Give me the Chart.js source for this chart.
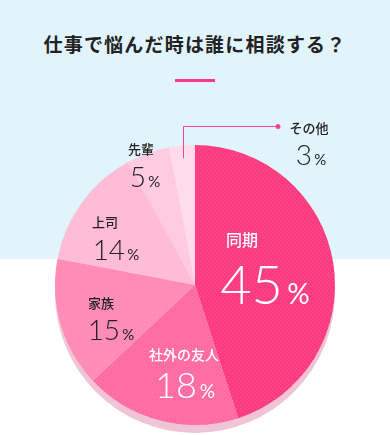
<!DOCTYPE html>
<html>
<head>
<meta charset="utf-8">
<script src="https://cdn.jsdelivr.net/npm/chart.js@4"></script>
<style>
  html,body{margin:0;padding:0;background:#fff;}
  #wrap{position:relative;width:390px;height:435px;overflow:hidden;background:#fff;}
  #bg{position:absolute;left:0;top:0;width:390px;height:259px;background:#e2f4fb;}
  #title{position:absolute;left:0;top:31px;width:390px;text-align:center;font-family:"Noto Sans CJK JP","Noto Sans",sans-serif;font-weight:700;font-size:19px;letter-spacing:1.2px;color:#222;line-height:26px;}
  #bar{position:absolute;left:175px;top:79px;width:40px;height:3px;background:#f63c80;}
  canvas{position:absolute;left:0;top:0;}
</style>
</head>
<body>
<div id="wrap">
  <div id="bg"></div>
  <div id="title">仕事で悩んだ時は誰に相談する？</div>
  <div id="bar"></div>
  <canvas id="c" width="390" height="435"></canvas>
</div>
<script>
const categories = ["同期", "社外の友人", "家族", "上司", "先輩", "その他"];
const values = [45, 18, 15, 14, 5, 3];
const valueLabels = ["45", "18", "15", "14", "5", "3"];

const sliceColors = ["#fb3a80", "#fe6aa3", "#fe8ab5", "#ffbad4", "#ffcadf", "#ffdae8"];
// label placement relative to pie centre (pixels): name centre, value centre, sizes, colour
const labelLayout = [
  {nx: 47, ny: -45, vx: 70, vy: 0, nSize: 16, vSize: 54, color: "#ffffff"},
  {nx: -11, ny: 70, vx: -10, vy: 100, nSize: 14, vSize: 36, color: "#ffffff"},
  {nx: -94, ny: 18, vx: -84, vy: 45, nSize: 13, vSize: 28, color: "#222222"},
  {nx: -90, ny: -63, vx: -79, vy: -35, nSize: 13, vSize: 28, color: "#222222"},
  {nx: -54, ny: -136, vx: -50, vy: -108, nSize: 13, vSize: 28, color: "#222222"},
  {nx: 114, ny: -157, vx: 116, vy: -130, nSize: 13, vSize: 28, color: "#222222"}
];

function makePattern(color) {
  const p = document.createElement("canvas");
  p.width = 4; p.height = 4;
  const g = p.getContext("2d");
  g.fillStyle = color;
  g.fillRect(0, 0, 4, 4);
  g.fillStyle = "rgba(255,255,255,0.16)";
  g.fillRect(0, 0, 1, 1);
  g.fillRect(2, 2, 1, 1);
  return g.createPattern(p, "repeat");
}

const shadowPlugin = {
  id: "shadow",
  beforeDatasetsDraw(chart) {
    const arc = chart.getDatasetMeta(0).data[0];
    if (!arc) return;
    const ctx = chart.ctx;
    ctx.save();
    ctx.fillStyle = "#efc5d5";
    ctx.beginPath();
    ctx.arc(arc.x, arc.y + 8, arc.outerRadius, 0, Math.PI * 2);
    ctx.fill();
    ctx.restore();
  }
};

const labelPlugin = {
  id: "labels",
  afterDatasetsDraw(chart) {
    const meta = chart.getDatasetMeta(0);
    const arc0 = meta.data[0];
    const cx = arc0.x, cy = arc0.y, r = arc0.outerRadius;
    const ctx = chart.ctx;
    ctx.save();
    // leader line for the smallest slice
    const last = meta.data[meta.data.length - 1];
    const mid = (last.startAngle + last.endAngle) / 2;
    const lx = cx + Math.cos(mid) * (r * 0.91);
    const ly0 = cy + Math.sin(mid) * (r * 0.91);
    const topY = cy - 159;
    const endX = cx + 83;
    ctx.strokeStyle = "#f5478a";
    ctx.lineWidth = 1;
    ctx.beginPath();
    ctx.moveTo(Math.round(lx) + 0.5, ly0);
    ctx.lineTo(Math.round(lx) + 0.5, topY + 0.5);
    ctx.lineTo(endX, topY + 0.5);
    ctx.stroke();
    ctx.fillStyle = "#f5478a";
    ctx.beginPath();
    ctx.arc(endX, topY + 0.5, 2.5, 0, Math.PI * 2);
    ctx.fill();

    categories.forEach((name, i) => {
      const L = labelLayout[i];
      ctx.fillStyle = L.color;
      ctx.textAlign = "center";
      ctx.textBaseline = "middle";
      ctx.font = `500 ${L.nSize}px "Noto Sans CJK JP", "Noto Sans", sans-serif`;
      ctx.fillText(name, cx + L.nx, cy + L.ny);
      // value with smaller percent sign
      const numFont = `300 ${L.vSize}px Lato, "Open Sans", sans-serif`;
      const pSize = Math.round(L.vSize * 0.52);
      const pctFont = `400 ${pSize}px Lato, "Open Sans", sans-serif`;
      ctx.font = numFont;
      const nw = ctx.measureText(valueLabels[i]).width;
      ctx.font = pctFont;
      const pw = ctx.measureText("%").width;
      const gap = L.vSize * 0.08;
      const total = nw + gap + pw;
      const x0 = cx + L.vx - total / 2;
      const base = cy + L.vy + L.vSize * 0.36;
      ctx.textAlign = "left";
      ctx.textBaseline = "alphabetic";
      ctx.font = numFont;
      ctx.fillText(valueLabels[i], x0, base);
      ctx.font = pctFont;
      ctx.fillText("%", x0 + nw + gap, base);
    });
    ctx.restore();
  }
};

function draw() {
  new Chart(document.getElementById("c"), {
    type: "pie",
    data: {
      labels: categories,
      datasets: [{
        data: values,
        backgroundColor: sliceColors.map(makePattern),
        borderWidth: 0
      }]
    },
    options: {
      responsive: false,
      devicePixelRatio: 1,
      animation: false,
      layout: {padding: {left: 55, right: 55, top: 145, bottom: 10}},
      plugins: {legend: {display: false}, tooltip: {enabled: false}}
    },
    plugins: [shadowPlugin, labelPlugin]
  });
}
Promise.all([
  document.fonts.load('300 54px Lato'),
  document.fonts.load('400 20px Lato'),
  document.fonts.load('500 13px "Noto Sans CJK JP"', '同期社外の友人家族上司先輩その他')
]).then(draw, draw);
</script>
</body>
</html>
